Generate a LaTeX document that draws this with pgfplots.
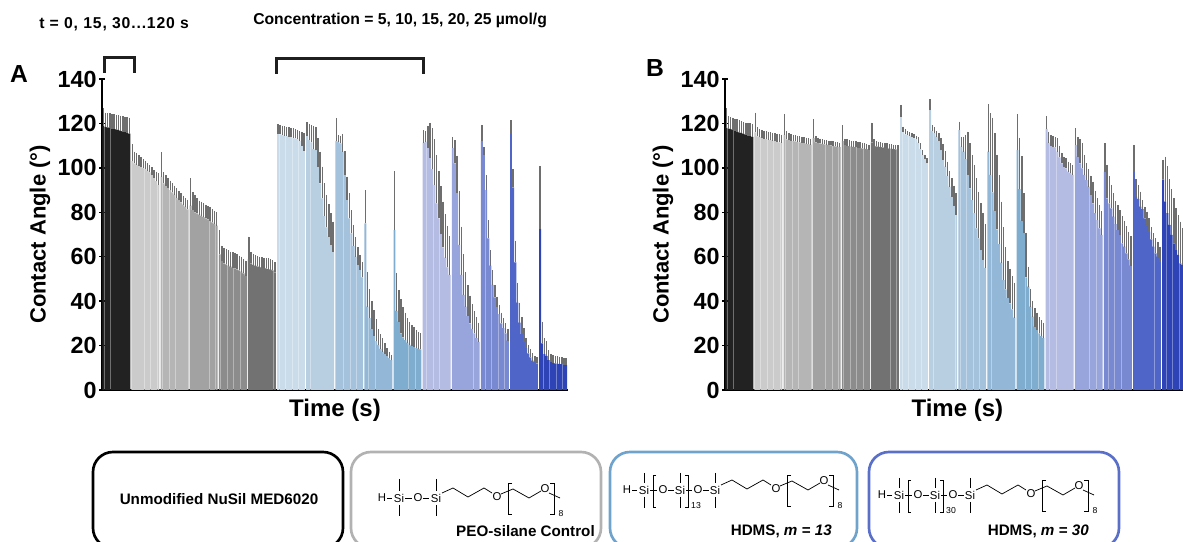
\documentclass[border=0pt]{standalone}
\usepackage{pgfplots}
\usepackage{pgfplotstable}
\usepackage{fontspec}
\setmainfont{Liberation Sans}
\pgfplotsset{compat=1.18}
\usetikzlibrary{calc}
% ---------- Panel A (m = mean, t = top of error bar) ----------
\pgfplotstableread[row sep=\\]{m t\\119 127\\118.5 124.9\\118.2 124.7\\118 124.5\\117.7 124.3\\117.5 124.1\\117.3 123.9\\117 123.7\\116.7 123.5\\116.4 123.3\\116.1 123.1\\115.8 122.9\\115.4 122.6\\}\tabAa
\pgfplotstableread[row sep=\\]{m t\\103 110.8\\102 107.3\\101.5 106.6\\101 105.8\\100.5 104.8\\100 103.9\\99.5 103.1\\98.8 102\\98 101.3\\97 100.2\\95.5 99\\94 98.3\\92.3 97.5\\}\tabAb
\pgfplotstableread[row sep=\\]{m t\\96 107\\93 98\\92 96.8\\91 95.5\\90 94.2\\89 93\\88 92\\86.5 90.8\\85.5 89.5\\84.5 88.5\\83.5 87.5\\82.5 86.5\\81.3 85.7\\}\tabAc
\pgfplotstableread[row sep=\\]{m t\\83 95.3\\81 89\\80 87.8\\79.5 86.5\\79 85.3\\78.3 84.8\\77.8 84.2\\77.3 83.5\\76.8 82.8\\76 82.2\\75.5 81.5\\74.8 80.8\\74 80\\}\tabAd
\pgfplotstableread[row sep=\\]{m t\\61 72\\58 65\\57 64\\56.5 63.5\\56 62.8\\55.5 62.3\\55 62\\54.7 61.5\\54.3 61\\53.8 60.5\\53.3 60\\52.5 58.8\\51.5 58.2\\}\tabAe
\pgfplotstableread[row sep=\\]{m t\\59 69\\57 62\\56.3 61.3\\56 60.8\\55.7 60.3\\55.3 60\\55 59.8\\55 59.5\\54.7 59.5\\54.4 59.2\\54.2 58.8\\53.8 58.5\\53 57.5\\}\tabAf
\pgfplotstableread[row sep=\\]{m t\\115.3 119.6\\115.1 119.3\\114.8 119\\114.5 118.7\\114.4 118.6\\114.1 118.3\\113.9 118\\113.6 117.8\\113.3 117.4\\112.9 117.1\\112.2 116.6\\109.9 116.3\\107.7 115.6\\}\tabAg
\pgfplotstableread[row sep=\\]{m t\\114.4 120.5\\112.6 119.8\\111.5 119.4\\108.4 118.9\\108 118.6\\100.6 113.3\\93 107.3\\86.3 100.6\\78.3 93\\73.2 87.8\\69 83.7\\65.3 79.5\\62.3 75.8\\}\tabAh
\pgfplotstableread[row sep=\\]{m t\\112.2 122.3\\111.8 114.8\\111 114.5\\107.3 115.3\\96.8 107.6\\85.5 96\\77.3 88.5\\70.5 81\\64.8 74.3\\60 68.8\\56.3 64.2\\54 60.8\\50.7 57.5\\}\tabAi
\pgfplotstableread[row sep=\\]{m t\\75 90\\37.5 53\\32.3 45.3\\27.5 40\\24.3 36\\22 31.8\\20.3 27.5\\18.5 25\\17.3 23.3\\16.3 21\\15.3 18.8\\14.3 17.2\\13.5 15.8\\}\tabAj
\pgfplotstableread[row sep=\\]{m t\\72 98.6\\35.6 52.8\\30.8 45\\25.5 40.8\\23.7 37.2\\22.5 34.8\\21.3 32.3\\20.3 30.8\\19.8 29.3\\19.4 28.2\\19 27\\18.6 26.2\\18.3 25.5\\}\tabAk
\pgfplotstableread[row sep=\\]{m t\\111.3 117\\111.8 116.7\\109 118.9\\104.6 120.3\\99.4 117.8\\92.3 112.9\\84 105.8\\77.3 98.6\\70.2 91.8\\64.2 84.8\\59.6 79.2\\55.2 74\\51.8 69.3\\}\tabAl
\pgfplotstableread[row sep=\\]{m t\\109 114\\102 112.6\\88.6 105.5\\65.3 89.6\\51.8 73.5\\42.8 61\\37.5 53\\33.3 47.3\\30 42.5\\27.5 38.7\\25.5 35.6\\23.3 32.7\\21.7 30.3\\}\tabAm
\pgfplotstableread[row sep=\\]{m t\\112.2 119.3\\105.8 109.2\\90 96.8\\68.3 76.5\\56 63\\47.3 54\\41.7 47.3\\37.5 42\\34.2 38.3\\30 34.8\\27.8 32.3\\25.5 30\\22.2 27.5\\}\tabAn
\pgfplotstableread[row sep=\\]{m t\\115.3 121.6\\91.2 99.4\\57.5 67.2\\39.3 48.3\\30.3 39.3\\25.2 32.7\\21.7 27.8\\18.8 23.3\\16.5 20.3\\14.7 18.3\\13.2 16.5\\12.5 15.3\\12 14.7\\}\tabAo
\pgfplotstableread[row sep=\\]{m t\\72.5 100.9\\21 30.8\\16.2 23.3\\15.4 22\\13.5 18\\12.5 16.2\\12.2 15.8\\12 15.4\\11.9 15.2\\11.7 15\\11.6 14.7\\11.4 14.5\\11.3 14.3\\}\tabAp
% ---------- Panel B ----------
\pgfplotstableread[row sep=\\]{m t\\118.2 127\\117.8 123.4\\117.4 123\\117 122.6\\116.7 122.2\\116.4 121.8\\116 121.4\\115.6 121\\115.3 120.7\\114.9 120.4\\114.6 120.2\\114.3 120\\114 119.8\\}\tabBa
\pgfplotstableread[row sep=\\]{m t\\116 124.9\\114.2 118.4\\113.8 117.6\\113.5 117.1\\113.2 116.7\\112.9 116.4\\112.7 116.2\\112.5 116\\112.3 115.8\\112 115.6\\111.8 115.4\\111.5 115.2\\111.3 115\\}\tabBb
\pgfplotstableread[row sep=\\]{m t\\115 124.3\\112.8 116.5\\112.5 115.6\\112.3 115.2\\112.1 114.8\\111.9 114.6\\111.7 114.4\\111.5 114.2\\111.3 114\\111.1 113.8\\110.9 113.6\\110.7 113.3\\110.5 113\\}\tabBc
\pgfplotstableread[row sep=\\]{m t\\113.5 121.9\\111.5 114.4\\111.2 113.6\\111 113.2\\110.8 112.9\\110.6 112.7\\110.4 112.5\\110.2 112.3\\110.1 112.1\\109.9 112\\109.7 111.8\\109.5 111.6\\109.3 111.4\\}\tabBd
\pgfplotstableread[row sep=\\]{m t\\112 119.2\\110.4 113.2\\110 113\\109.8 112.6\\109.6 112.3\\109.4 112.1\\109.3 111.9\\109.1 111.7\\109 111.5\\108.8 111.3\\108.6 111.1\\108.4 110.8\\108.2 110.5\\}\tabBe
\pgfplotstableread[row sep=\\]{m t\\111.5 120.4\\110 112.9\\109.7 112.1\\109.5 111.8\\109.3 111.5\\109.2 111.3\\109 111.2\\108.9 111\\108.7 110.8\\108.6 110.7\\108.4 110.5\\108.3 110.3\\108.1 110.1\\}\tabBf
\pgfplotstableread[row sep=\\]{m t\\123.1 128.3\\116.3 118.6\\115.1 117.3\\114.8 116.6\\114.5 116\\114.1 115.6\\113.6 115.1\\112.9 114.5\\111.3 113.8\\108.4 111\\105.8 108\\103.9 105.8\\102.3 104.3\\}\tabBg
\pgfplotstableread[row sep=\\]{m t\\126 130.9\\116.7 119.3\\115.6 118.2\\114.1 116.7\\112.2 115.8\\108 113.3\\103.6 110.6\\100.5 107.6\\96.4 102.8\\91.5 98.6\\87 95.3\\83 92\\78.8 88.6\\}\tabBh
\pgfplotstableread[row sep=\\]{m t\\117 120.8\\109.5 113.8\\107.3 114.1\\103.9 114.8\\96.8 116.3\\90.8 111\\85.5 105.8\\79.6 101.3\\72.8 95.3\\68.3 89.3\\63 84\\58.5 79.6\\55 74.7\\}\tabBi
\pgfplotstableread[row sep=\\]{m t\\107.3 128.8\\96.8 124.6\\89 122.6\\80.7 115.8\\72.3 105.8\\65.7 96.8\\57.3 84.8\\49.5 73.3\\45.3 64.2\\41.3 58.2\\39 54.5\\36.3 51.3\\32.6 48.3\\}\tabBj
\pgfplotstableread[row sep=\\]{m t\\108 124.3\\90.4 113.6\\76.2 105.4\\70.8 88.6\\50.7 70.8\\46.5 55.5\\37.5 45.3\\33 40.2\\28.5 36.8\\27 34.8\\25.5 32.7\\24.3 31.5\\23.3 30.3\\}\tabBk
\pgfplotstableread[row sep=\\]{m t\\117.5 123.4\\111.3 116.3\\109.9 114.8\\109.5 114.4\\109.2 113.8\\107.3 113.3\\104.7 110\\102 106.8\\100.5 105\\99.8 104.3\\98.3 102.8\\97.6 102\\96.8 101.3\\}\tabBl
\pgfplotstableread[row sep=\\]{m t\\110.3 117.8\\105 113.8\\102 112.9\\99.8 111\\96.8 105.8\\94.5 102\\91.5 99.5\\87.8 96.5\\84 93.8\\79.6 89.7\\76.5 86.3\\72.8 83.3\\69.8 80.6\\}\tabBm
\pgfplotstableread[row sep=\\]{m t\\98.3 111\\86.3 101.3\\84 96.4\\81.8 92.3\\78 88.6\\74.7 85.1\\72 83.3\\69.8 81\\66 78.3\\64.5 76.2\\61.5 73.8\\58.8 71.3\\56 69.3\\}\tabBn
\pgfplotstableread[row sep=\\]{m t\\98.3 110.3\\87 94.8\\86 92.3\\82.5 89.3\\81.4 85.5\\77.3 82.5\\73.8 80.3\\71.3 77.3\\67.8 73.3\\64.5 70.5\\61.5 68.3\\60 66.8\\57.8 64.5\\}\tabBo
\pgfplotstableread[row sep=\\]{m t\\94.8 103.6\\84.8 105\\79.6 100.9\\74.3 95\\69.8 90.4\\66 86.3\\63 81.8\\60.8 78.8\\57 75.8\\56.3 72.8\\}\tabBp
\definecolor{ca}{HTML}{222222}
\definecolor{cb}{HTML}{CBCBCB}\definecolor{cc}{HTML}{B5B5B5}\definecolor{cd}{HTML}{A2A2A2}\definecolor{ce}{HTML}{8C8C8C}\definecolor{cf}{HTML}{727272}
\definecolor{cg}{HTML}{CADCEA}\definecolor{ch}{HTML}{B8CFE2}\definecolor{ci}{HTML}{A5C2DC}\definecolor{cj}{HTML}{93B8D7}\definecolor{ck}{HTML}{7FADD0}
\definecolor{cl}{HTML}{B4BCE4}\definecolor{cm}{HTML}{98A4DC}\definecolor{cn}{HTML}{7888D1}\definecolor{co}{HTML}{4F65C7}\definecolor{cp}{HTML}{2D43B6}
\definecolor{eb}{HTML}{6E6E6E}
\newcommand{\grp}[3]{\addplot[ybar,bar shift=0pt,bar width=1.4pt,fill=#2,draw=none,forget plot,
  error bars/.cd,y dir=plus,y explicit,error mark=none,error bar style={eb,line width=1.05pt}]
  table[x expr={1.3+#1*29.12+\coordindex*2.17},y=m,y error expr={\thisrow{t}-\thisrow{m}}]{#3};}
\pgfplotsset{panel/.style={scale only axis,height=233.25pt,
  axis x line=bottom,axis y line=left,axis line style={-,line width=1.5pt,black},
  ymin=0,ymax=140,ytick={0,20,...,140},xtick=\empty,xmin=0,
  tick style={black,line width=1.1pt},major tick length=4pt,
  /pgf/number format/assume math mode=true,
  tick label style={font=\fontsize{17.5}{17.5}\selectfont\bfseries},
  yticklabel style={xshift=1.5pt},
  every axis y label/.style={at={(axis description cs:0,0.5)},xshift=-46.5pt,rotate=90,anchor=center,font=\fontsize{16.5}{18}\selectfont\bfseries}}}
\newcommand{\peg}[3]{\begin{scope}[shift={(#1,#2)},line width=.55pt]
  \draw (6,-5)--(17,-10)--(32,-1)--(48,-10)--(56,-5);
  \node[atom] at (61,-1) {O};
  \draw (65,-4)--(77,-9)--(93,0)--(105,-7);
  \node[atom] at (109,-9) {O};
  \draw (113,-5)--(124,0);
  \draw (76,-15)--(72,-15)--(72,16)--(76,16);
  \draw (114,-15)--(118,-15)--(118,16)--(114,16);
  \node[atom,font=\fontsize{6.5}{7}\selectfont] at (125,16) {#3};
\end{scope}}
\begin{document}
\begin{tikzpicture}
\useasboundingbox (0,0) rectangle (887.25pt,406.5pt);
\clip (0,0) rectangle (887.25pt,406.5pt);
\begin{axis}[panel,at={(76.5pt,114pt)},anchor=south west,width=349.5pt,xmax=466,
  xlabel={Time (s)},ylabel={Contact Angle (°)},
  every axis x label/.style={at={(axis description cs:0.5,0)},yshift=-15pt,anchor=center,font=\fontsize{18}{20}\selectfont\bfseries}]
\grp{0}{ca}{\tabAa}\grp{1}{cb}{\tabAb}\grp{2}{cc}{\tabAc}\grp{3}{cd}{\tabAd}
\grp{4}{ce}{\tabAe}\grp{5}{cf}{\tabAf}\grp{6}{cg}{\tabAg}\grp{7}{ch}{\tabAh}
\grp{8}{ci}{\tabAi}\grp{9}{cj}{\tabAj}\grp{10}{ck}{\tabAk}\grp{11}{cl}{\tabAl}
\grp{12}{cm}{\tabAm}\grp{13}{cn}{\tabAn}\grp{14}{co}{\tabAo}\grp{15}{cp}{\tabAp}
\end{axis}
\begin{axis}[panel,at={(543.75pt,114pt)},anchor=south west,width=343.5pt,xmax=458,
  xlabel={Time (s)},ylabel={Contact Angle (°)},
  every axis x label/.style={at={(axis description cs:0.5,0)},yshift=-15pt,xshift=2.5pt,anchor=center,font=\fontsize{18}{20}\selectfont\bfseries}]
\grp{0}{ca}{\tabBa}\grp{1}{cb}{\tabBb}\grp{2}{cc}{\tabBc}\grp{3}{cd}{\tabBd}
\grp{4}{ce}{\tabBe}\grp{5}{cf}{\tabBf}\grp{6}{cg}{\tabBg}\grp{7}{ch}{\tabBh}
\grp{8}{ci}{\tabBi}\grp{9}{cj}{\tabBj}\grp{10}{ck}{\tabBk}\grp{11}{cl}{\tabBl}
\grp{12}{cm}{\tabBm}\grp{13}{cn}{\tabBn}\grp{14}{co}{\tabBo}\grp{15}{cp}{\tabBp}
\end{axis}
\begin{scope}[shift={(0pt,406.5pt)},x=0.75pt,y=-0.75pt,
  atom/.style={inner sep=0pt,font=\fontsize{8.5}{9}\selectfont},
  lbl/.style={inner sep=0pt,font=\fontsize{11.4}{12}\selectfont\bfseries}]
% panel letters
\node[inner sep=0pt,font=\fontsize{18.5}{20}\selectfont\bfseries] at (19,74) {A};
\node[inner sep=0pt,font=\fontsize{18.5}{20}\selectfont\bfseries] at (655,68) {B};
% annotations
\node[inner sep=0pt,anchor=west,font=\fontsize{11.8}{13}\selectfont\bfseries\addfontfeatures{LetterSpace=5.4}] at (39,24) {t = 0, 15, 30...120 s};
\node[inner sep=0pt,anchor=west,font=\fontsize{11.8}{13}\selectfont\bfseries] at (253,20) {Concentration = 5, 10, 15, 20, 25 µmol/g};
\draw[line width=2.25pt,color=black!88] (104,73)--(104,58)--(134,58)--(134,73);
\draw[line width=2.25pt,color=black!88] (276,74)--(276,59)--(423,59)--(423,74);
% boxes
\draw[line width=2pt,black,rounded corners=15pt] (93,452) rectangle (343,548);
\draw[line width=2pt,color=black!30,rounded corners=15pt] (351,452) rectangle (601,548);
\draw[line width=2pt,color={rgb,255:red,111;green,163;blue,204},rounded corners=15pt] (610,452) rectangle (857,548);
\draw[line width=2pt,color={rgb,255:red,90;green,111;blue,200},rounded corners=15pt] (869,452) rectangle (1119,548);
% box texts
\node[lbl] at (219,499) {Unmodified NuSil MED6020};
\node[lbl,anchor=east] at (595,531) {PEO-silane Control};
\node[lbl,anchor=east] at (832,531) {HDMS, \textit{m = 13}};
\node[lbl,anchor=east] at (1089,531) {HDMS, \textit{m = 30}};
% structure PEO-silane
\begin{scope}[line width=.55pt]
\node[atom] at (382,498) {H};
\draw (387,498)--(392,498);
\node[atom] at (399,498) {Si};
\draw (399,479)--(399,491) (399,505)--(399,516);
\draw (405,498)--(412,498);
\node[atom] at (418,498) {O};
\draw (423,498)--(429,498);
\node[atom] at (436,498) {Si};
\draw (436,479)--(436,491) (436,505)--(436,516);
\end{scope}
\peg{436}{498}{8}
% structure m=13
\begin{scope}[line width=.55pt]
\node[atom] at (627,490) {H};
\draw (632,490)--(637,490);
\node[atom] at (644,490) {Si};
\draw (644,473)--(644,483) (644,497)--(644,508);
\draw (650,490)--(657,490);
\draw (656,475)--(653,475)--(653,507)--(656,507);
\node[atom] at (663,490) {O};
\draw (668,490)--(674,490);
\node[atom] at (680,490) {Si};
\draw (680,473)--(680,483) (680,497)--(680,508);
\draw (686,490)--(692,490);
\draw (685,475)--(688,475)--(688,507)--(685,507);
\node[atom,font=\fontsize{6.5}{7}\selectfont] at (696,506) {13};
\node[atom] at (698,490) {O};
\draw (703,490)--(709,490);
\node[atom] at (715,490) {Si};
\draw (715,473)--(715,483) (715,497)--(715,508);
\end{scope}
\peg{715}{490}{8}
% structure m=30
\begin{scope}[line width=.55pt]
\node[atom] at (882,495) {H};
\draw (887,495)--(892,495);
\node[atom] at (899,495) {Si};
\draw (899,478)--(899,488) (899,502)--(899,513);
\draw (905,495)--(912,495);
\draw (911,480)--(908,480)--(908,512)--(911,512);
\node[atom] at (918,495) {O};
\draw (923,495)--(929,495);
\node[atom] at (935,495) {Si};
\draw (935,478)--(935,488) (935,502)--(935,513);
\draw (941,495)--(947,495);
\draw (940,480)--(943,480)--(943,512)--(940,512);
\node[atom,font=\fontsize{6.5}{7}\selectfont] at (951,511) {30};
\node[atom] at (953,495) {O};
\draw (958,495)--(964,495);
\node[atom] at (970,495) {Si};
\draw (970,478)--(970,488) (970,502)--(970,513);
\end{scope}
\peg{970}{495}{8}
\end{scope}
\end{tikzpicture}
\end{document}
